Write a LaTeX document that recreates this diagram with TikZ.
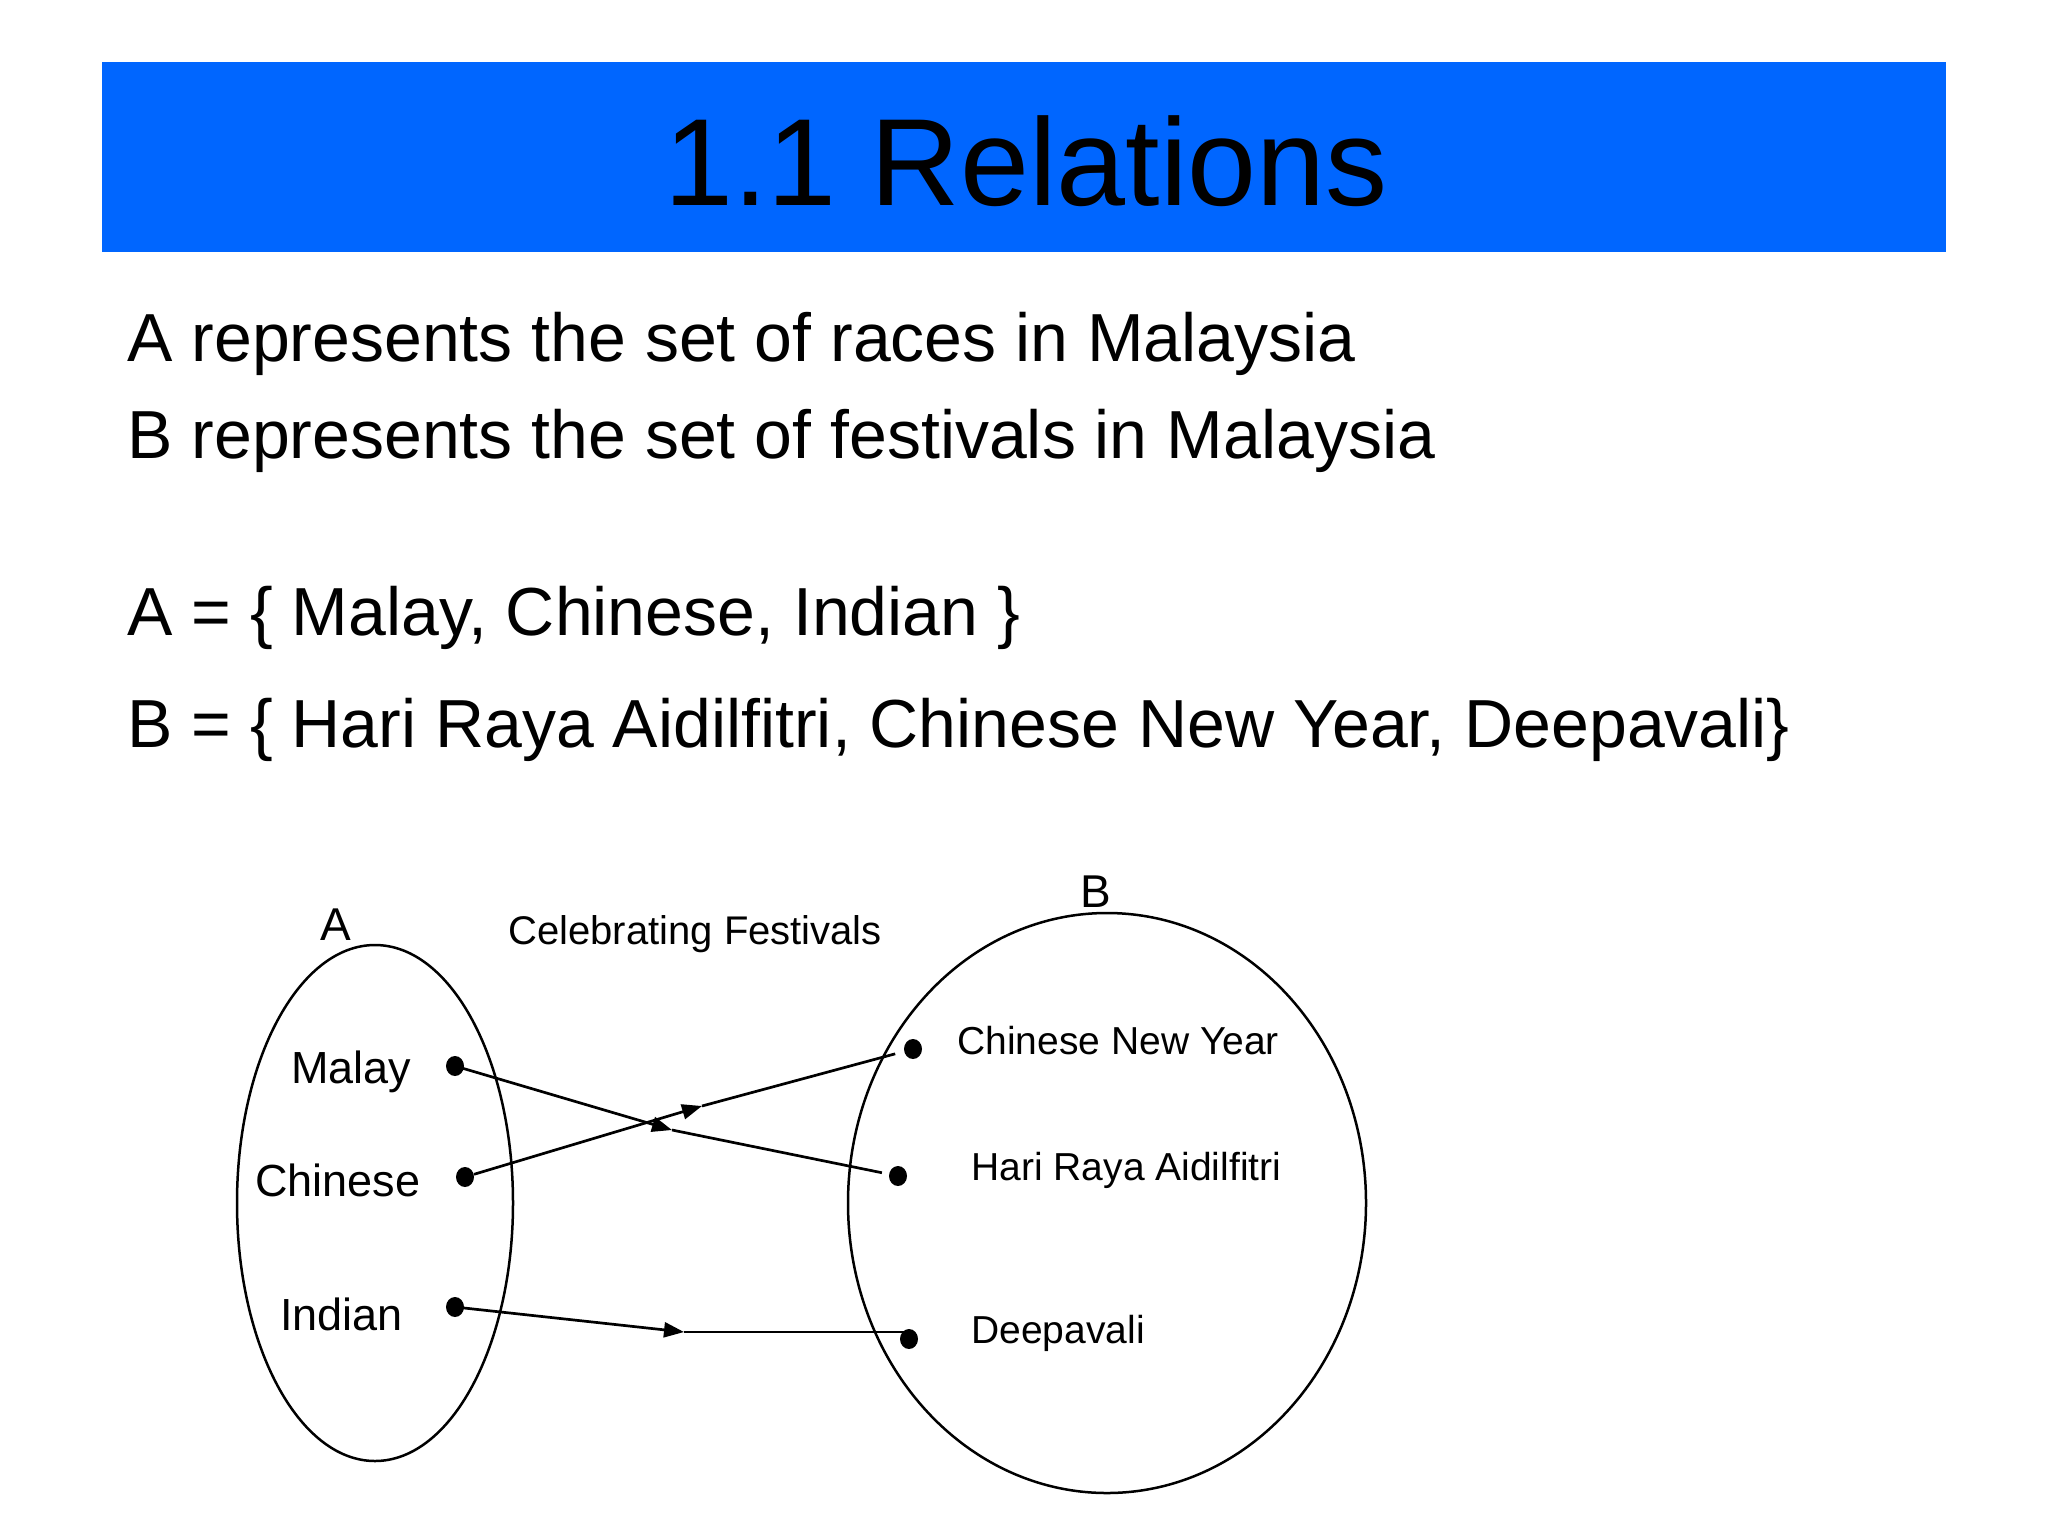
\documentclass[tikz,border=0pt]{standalone}
\usepackage{fontspec}
\setmainfont{Liberation Sans}
\usetikzlibrary{arrows.meta,shapes.geometric}
\definecolor{barblue}{RGB}{0,102,255}
\tikzset{
  bodytext/.style={anchor=base west,inner sep=0pt,font=\fontsize{34}{40}\selectfont},
  setlabel/.style={anchor=base,inner sep=0pt,font=\fontsize{23}{27}\selectfont},
  leftitem/.style={anchor=base west,inner sep=0pt,font=\fontsize{22.5}{27}\selectfont},
  rightitem/.style={anchor=base west,inner sep=0pt,font=\fontsize{19.5}{24}\selectfont},
  setshape/.style={draw,ellipse,line width=1.25pt,inner sep=0pt},
  dot/.style={ellipse,fill=black,inner sep=0pt,minimum width=9pt,minimum height=10pt},
  conn/.style={line width=1.35pt},
  tip/.style={-{Triangle[length=10pt,width=7.5pt]}}
}
\begin{document}
\begin{tikzpicture}[x=0.5pt,y=-0.5pt]
\useasboundingbox (0,0) rectangle (2048,1536);
\fill[white] (0,0) rectangle (2048,1536);
% title bar
\node[fill=barblue,inner sep=0pt,minimum width=922pt,minimum height=95pt] (bar) at (1024,157) {};
\node[anchor=base,inner sep=0pt,font=\fontsize{62}{70}\selectfont] (title) at (1026,205) {1.1 Relations};
% body text
\node[bodytext] (l1) at (127,361) {A represents the set of races in Malaysia};
\node[bodytext] (l2) at (127,458) {B represents the set of festivals in Malaysia};
\node[bodytext] (l3) at (127,635) {A = \{ Malay, Chinese, Indian \}};
\node[bodytext] (l4) at (127,747) {B = \{ Hari Raya Aidilfitri, Chinese New Year, Deepavali\}};
% sets
\node[setshape,minimum width=138pt,minimum height=258pt] (setA) at (375,1203) {};
\node[setshape,minimum width=259pt,minimum height=290pt] (setB) at (1107,1203) {};
\node[setlabel] (labA) at (336,940) {A};
\node[setlabel] (labB) at (1096,907) {B};
\node[anchor=base west,inner sep=0pt,font=\fontsize{20}{24}\selectfont] (cap) at (508,944) {Celebrating Festivals};
% items
\node[leftitem] (tmalay) at (291,1083) {Malay};
\node[leftitem] (tchinese) at (255,1196) {Chinese};
\node[leftitem] (tindian) at (280,1330) {Indian};
\node[rightitem] (tcny) at (957,1054) {Chinese New Year};
\node[rightitem] (thra) at (971,1180) {Hari Raya Aidilfitri};
\node[rightitem] (tdeep) at (971,1343) {Deepavali};
% dots
\node[dot] (malay) at (455,1066) {};
\node[dot] (chinese) at (465,1177) {};
\node[dot] (indian) at (455,1307) {};
\node[dot] (cny) at (913,1049) {};
\node[dot] (hra) at (898,1176) {};
\node[dot] (deep) at (909,1339) {};
% arrow joints
\coordinate (m1) at (672,1130);
\coordinate (m2) at (702,1106);
\coordinate (m3) at (684,1332);
% connectors
\draw[conn,tip] (malay.center) -- (m1);
\draw[conn,shorten >=3.5pt] (m1) -- (hra);
\draw[conn,tip] (chinese) -- (m2);
\draw[conn,shorten >=4.5pt] (m2) -- (cny);
\draw[conn,tip] (indian.center) -- (m3);
\draw[conn] (m3) -- (m3 -| deep);
\end{tikzpicture}
\end{document}
